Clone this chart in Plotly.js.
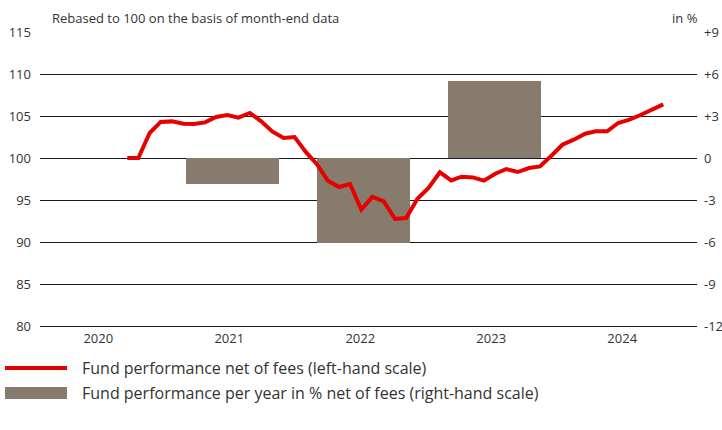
<!DOCTYPE html>
<html>
<head>
<meta charset="utf-8">
<script src="https://cdn.plot.ly/plotly-3.0.1.min.js"></script>
<style>
  html, body { margin: 0; padding: 0; background: #fff; }
  #chart { width: 722px; height: 430px; }
</style>
</head>
<body>
<div id="chart"></div>
<script>
// ---- data ----
const months = [
  "2020-09","2020-10","2020-11","2020-12",
  "2021-01","2021-02","2021-03","2021-04","2021-05","2021-06","2021-07","2021-08","2021-09","2021-10","2021-11","2021-12",
  "2022-01","2022-02","2022-03","2022-04","2022-05","2022-06","2022-07","2022-08","2022-09","2022-10","2022-11","2022-12",
  "2023-01","2023-02","2023-03","2023-04","2023-05","2023-06","2023-07","2023-08","2023-09","2023-10","2023-11","2023-12",
  "2024-01","2024-02","2024-03","2024-04","2024-05","2024-06","2024-07","2024-08","2024-09"
];
const fundIndex = [
  100.0, 100.0, 102.98, 104.29,
  104.36, 104.08, 104.05, 104.24, 104.88, 105.12, 104.8, 105.36, 104.36, 103.17, 102.38, 102.5,
  100.7, 99.2, 97.33, 96.55, 96.9, 93.85, 95.36, 94.83, 92.74, 92.86, 95.15, 96.43,
  98.29, 97.33, 97.77, 97.69, 97.30, 98.13, 98.69, 98.33, 98.81, 99.0, 100.27, 101.58,
  102.18, 102.89, 103.17, 103.17, 104.17, 104.56, 105.12, 105.75, 106.38
];
const barYears = [2021, 2022, 2023];
const barPct = [-1.85, -6.05, 5.5];
const yearTicks = [2020, 2021, 2022, 2023, 2024];
const yearLabels = ["2020", "2021", "2022", "2023", "2024"];
const leftTicks = [80, 85, 90, 95, 100, 105, 110, 115];
const rightTicks = [-12, -9, -6, -3, 0, 3, 6, 9];
const rightLabels = ["-12", "-9", "-6", "-3", "0", "+3", "+6", "+9"];
const lineName = "Fund performance net of fees (left-hand scale)";
const barName = "Fund performance per year in % net of fees (right-hand scale)";
const noteText = "Rebased to 100 on the basis of month-end data";
const unitText = "in %";

// ---- layout helpers ----
const W = 722, H = 430;
const M = { l: 40, r: 25, t: 32, b: 104 };
const PW = W - M.l - M.r, PH = H - M.t - M.b;
const px = v => (v - M.l) / PW;
const py = v => (H - M.b - v) / PH;

const RED = "#e60000";
const BROWN = "#877b6e";
const TXT = "#333333";
const GRID = "#1a1a1a";
const FONT = "Open Sans, Noto Sans, sans-serif";

const traces = [
  {
    type: "bar",
    x: barYears,
    y: barPct,
    xaxis: "x",
    yaxis: "y",
    width: 0.71,
    offset: -0.33,
    marker: { color: BROWN, line: { width: 0 } },
    name: barName,
    showlegend: false,
    hoverinfo: "skip"
  },
  {
    type: "scatter",
    mode: "lines",
    x: months,
    y: fundIndex,
    xaxis: "x2",
    yaxis: "y2",
    line: { color: RED, width: 4 },
    name: lineName,
    showlegend: false,
    hoverinfo: "skip"
  }
];

const layout = {
  width: W, height: H,
  margin: M,
  paper_bgcolor: "#ffffff",
  plot_bgcolor: "#ffffff",
  font: { family: FONT, size: 13, color: TXT },
  showlegend: false,
  bargap: 0,
  xaxis: {
    type: "linear",
    range: [2019.555, 2024.571],
    tickvals: yearTicks,
    ticktext: yearLabels,
    ticks: "",
    showgrid: false,
    zeroline: false,
    showline: true,
    linecolor: GRID,
    linewidth: 1,
    fixedrange: true,
    tickfont: { size: 13, color: TXT, family: FONT },
    automargin: false
  },
  xaxis2: {
    type: "date",
    overlaying: "x",
    range: ["2020-01-07", "2024-12-02"],
    visible: false,
    showgrid: false,
    zeroline: false,
    fixedrange: true
  },
  yaxis: {
    side: "right",
    range: [-12, 9],
    tickvals: rightTicks,
    ticktext: rightLabels,
    ticks: "",
    ticklabelstandoff: 6,
    showgrid: true,
    gridcolor: GRID,
    gridwidth: 1,
    zeroline: false,
    showline: false,
    fixedrange: true,
    tickfont: { size: 13, color: TXT, family: FONT },
    automargin: false
  },
  yaxis2: {
    side: "left",
    overlaying: "y",
    range: [80, 115],
    tickvals: leftTicks,
    ticktext: leftTicks.map(String),
    ticks: "",
    ticklabelstandoff: 8,
    showgrid: false,
    zeroline: false,
    showline: false,
    fixedrange: true,
    tickfont: { size: 13, color: TXT, family: FONT },
    automargin: false
  },
  shapes: [
    { type: "line", xref: "paper", yref: "paper",
      x0: px(5), x1: px(67), y0: py(368), y1: py(368),
      line: { color: RED, width: 4 } },
    { type: "rect", xref: "paper", yref: "paper",
      x0: px(5), x1: px(67), y0: py(387), y1: py(399),
      fillcolor: BROWN, line: { width: 0 } }
  ],
  annotations: [
    { xref: "paper", yref: "paper", x: px(50), y: py(18), xanchor: "left", yanchor: "middle",
      text: noteText, showarrow: false, font: { size: 13, color: TXT, family: FONT } },
    { xref: "paper", yref: "paper", x: px(700), y: py(18), xanchor: "right", yanchor: "middle",
      text: unitText, showarrow: false, font: { size: 13, color: TXT, family: FONT } },
    { xref: "paper", yref: "paper", x: px(80), y: py(368), xanchor: "left", yanchor: "middle",
      text: lineName, showarrow: false, font: { size: 16, color: TXT, family: FONT } },
    { xref: "paper", yref: "paper", x: px(80), y: py(393), xanchor: "left", yanchor: "middle",
      text: barName, showarrow: false, font: { size: 16, color: TXT, family: FONT } }
  ]
};

Plotly.newPlot("chart", traces, layout, { staticPlot: true, displayModeBar: false });
</script>
</body>
</html>
